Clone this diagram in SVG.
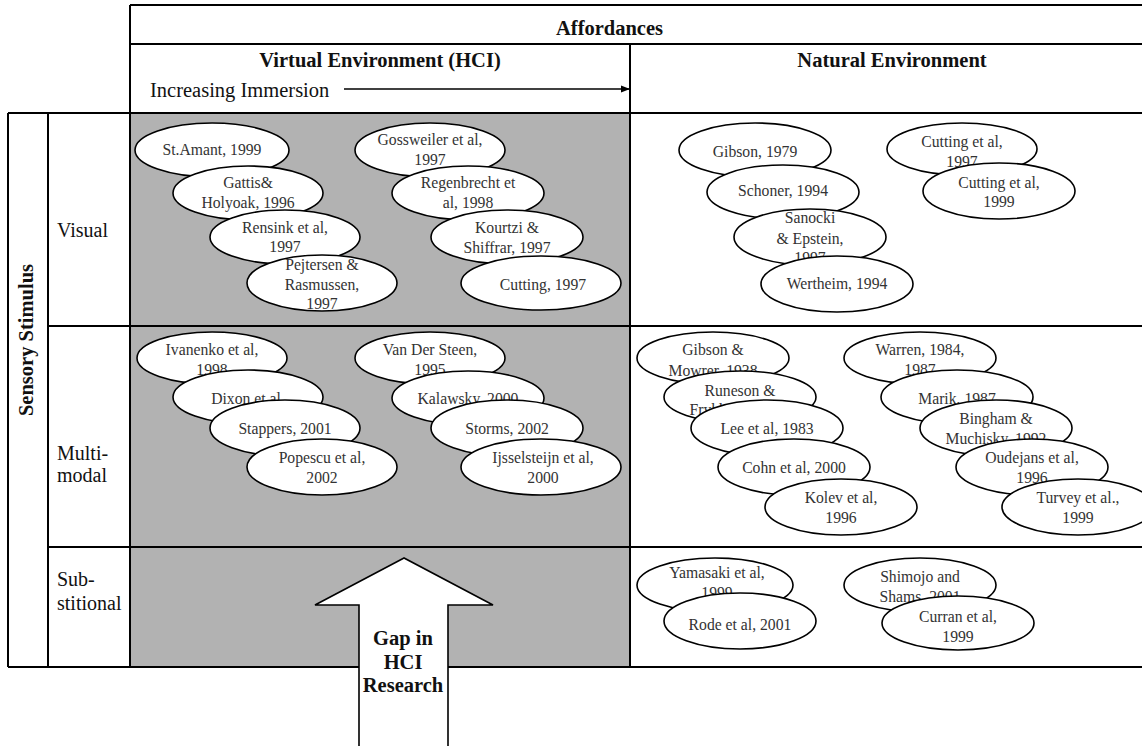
<svg xmlns="http://www.w3.org/2000/svg" width="1142" height="746" viewBox="0 0 1142 746">
<style>
.ln{stroke:#000;stroke-width:2;fill:none}
.e{fill:#fff;stroke:#000;stroke-width:1.6}
.t{font-family:"Liberation Serif",serif;font-size:15.7px;fill:#333;text-anchor:middle}
.lab{font-family:"Liberation Serif",serif;font-size:20px;fill:#111}
.hdr{font-family:"Liberation Serif",serif;font-size:20.5px;font-weight:bold;fill:#111}
.reg{font-family:"Liberation Serif",serif;font-size:20.5px;fill:#111}
</style>
<defs>
<marker id="ah" markerWidth="10" markerHeight="8" refX="9" refY="4" orient="auto" markerUnits="userSpaceOnUse">
<path d="M0,0.5 L9,4 L0,7.5 Z" fill="#000"/>
</marker>
</defs>
<rect width="1142" height="746" fill="#fff"/>
<g id="table">
<rect x="130" y="113" width="500" height="554" fill="#b2b2b2"/>
<path class="ln" d="M130,5 H1143 M130,44 H1143 M130,5 V113 M630,44 V667 M8,113 H1143 M48,326 H1143 M48,547 H1143 M8,667 H1143 M8,113 V667 M48,113 V667 M130,113 V667"/>
<text class="hdr" x="556" y="35">Affordances</text>
<text class="hdr" x="380" y="67" text-anchor="middle">Virtual Environment (HCI)</text>
<text class="hdr" x="892" y="67" text-anchor="middle">Natural Environment</text>
<text class="reg" x="150" y="97">Increasing Immersion</text>
<text class="hdr" transform="translate(33,340) rotate(-90)" text-anchor="middle" font-size="22px">Sensory Stimulus</text>
<text class="lab" x="57" y="237">Visual</text>
<text class="lab" x="57" y="460">Multi-</text>
<text class="lab" x="57" y="482">modal</text>
<text class="lab" x="57" y="586">Sub-</text>
<text class="lab" x="57" y="610">stitional</text>
</g>
<g id="connectors">
<line x1="344" y1="89" x2="630" y2="89" stroke="#000" stroke-width="1.5" marker-end="url(#ah)"/>
</g>
<g id="n1"><ellipse class="e" cx="212" cy="150" rx="77" ry="27"/><text class="t" x="212" y="155">St.Amant, 1999</text></g>
<g id="n2"><ellipse class="e" cx="248" cy="193" rx="75" ry="27"/><text class="t" x="248" y="188">Gattis&amp;</text><text class="t" x="248" y="208">Holyoak, 1996</text></g>
<g id="n3"><ellipse class="e" cx="285" cy="237" rx="75" ry="27"/><text class="t" x="285" y="233">Rensink et al,</text><text class="t" x="285" y="252">1997</text></g>
<g id="n4"><ellipse class="e" cx="322" cy="283" rx="75" ry="28"/><text class="t" x="322" y="270">Pejtersen &amp;</text><text class="t" x="322" y="290">Rasmussen,</text><text class="t" x="322" y="309">1997</text></g>
<g id="n5"><ellipse class="e" cx="430" cy="150" rx="75" ry="27"/><text class="t" x="430" y="145">Gossweiler et al,</text><text class="t" x="430" y="165">1997</text></g>
<g id="n6"><ellipse class="e" cx="468" cy="193" rx="76" ry="27"/><text class="t" x="468" y="188">Regenbrecht et</text><text class="t" x="468" y="208">al, 1998</text></g>
<g id="n7"><ellipse class="e" cx="507" cy="237" rx="76" ry="27"/><text class="t" x="507" y="233">Kourtzi &amp;</text><text class="t" x="507" y="253">Shiffrar, 1997</text></g>
<g id="n8"><ellipse class="e" cx="541" cy="283" rx="80" ry="27"/><text class="t" x="543" y="290">Cutting, 1997</text></g>
<g id="n9"><ellipse class="e" cx="212" cy="358" rx="75" ry="26"/><text class="t" x="212" y="355">Ivanenko et al,</text><text class="t" x="212" y="375">1998</text></g>
<g id="n10"><ellipse class="e" cx="248" cy="397" rx="75" ry="27"/><text class="t" x="248" y="404">Dixon et al,</text></g>
<g id="n11"><ellipse class="e" cx="285" cy="428" rx="75" ry="28"/><text class="t" x="285" y="434">Stappers, 2001</text></g>
<g id="n12"><ellipse class="e" cx="322" cy="467" rx="75" ry="28"/><text class="t" x="322" y="463">Popescu et al,</text><text class="t" x="322" y="483">2002</text></g>
<g id="n13"><ellipse class="e" cx="430" cy="358" rx="75" ry="26"/><text class="t" x="430" y="355">Van Der Steen,</text><text class="t" x="430" y="375">1995</text></g>
<g id="n14"><ellipse class="e" cx="468" cy="398" rx="76" ry="27"/><text class="t" x="468" y="404">Kalawsky, 2000</text></g>
<g id="n15"><ellipse class="e" cx="507" cy="428" rx="76" ry="28"/><text class="t" x="507" y="434">Storms, 2002</text></g>
<g id="n16"><ellipse class="e" cx="541" cy="467" rx="80" ry="28"/><text class="t" x="543" y="463">Ijsselsteijn et al,</text><text class="t" x="543" y="483">2000</text></g>
<g id="n17"><ellipse class="e" cx="755" cy="150" rx="76" ry="27"/><text class="t" x="755" y="157">Gibson, 1979</text></g>
<g id="n18"><ellipse class="e" cx="783" cy="192" rx="76" ry="27"/><text class="t" x="783" y="196">Schoner, 1994</text></g>
<g id="n19"><ellipse class="e" cx="810" cy="237" rx="76" ry="28"/><text class="t" x="810" y="223">Sanocki</text><text class="t" x="810" y="244">&amp; Epstein,</text><text class="t" x="810" y="263">1997</text></g>
<g id="n20"><ellipse class="e" cx="837" cy="284" rx="76" ry="28"/><text class="t" x="837" y="289">Wertheim, 1994</text></g>
<g id="n21"><ellipse class="e" cx="962" cy="149" rx="75" ry="26"/><text class="t" x="962" y="147">Cutting et al,</text><text class="t" x="962" y="167">1997</text></g>
<g id="n22"><ellipse class="e" cx="999" cy="191" rx="76" ry="28"/><text class="t" x="999" y="188">Cutting et al,</text><text class="t" x="999" y="207">1999</text></g>
<g id="n23"><ellipse class="e" cx="713" cy="358" rx="76" ry="26"/><text class="t" x="713" y="355">Gibson &amp;</text><text class="t" x="713" y="376">Mowrer, 1938</text></g>
<g id="n24"><ellipse class="e" cx="740" cy="397" rx="76" ry="26"/><text class="t" x="740" y="396">Runeson &amp;</text><text class="t" x="740" y="415">Frykholm, 1983</text></g>
<g id="n25"><ellipse class="e" cx="767" cy="428" rx="76" ry="28"/><text class="t" x="767" y="434">Lee et al, 1983</text></g>
<g id="n26"><ellipse class="e" cx="794" cy="467" rx="76" ry="28"/><text class="t" x="794" y="473">Cohn et al, 2000</text></g>
<g id="n27"><ellipse class="e" cx="841" cy="507" rx="76" ry="28"/><text class="t" x="841" y="503">Kolev et al,</text><text class="t" x="841" y="523">1996</text></g>
<g id="n28"><ellipse class="e" cx="920" cy="358" rx="76" ry="26"/><text class="t" x="920" y="355">Warren, 1984,</text><text class="t" x="920" y="375">1987</text></g>
<g id="n29"><ellipse class="e" cx="957" cy="397" rx="76" ry="27"/><text class="t" x="957" y="404">Marik, 1987</text></g>
<g id="n30"><ellipse class="e" cx="996" cy="428" rx="76" ry="28"/><text class="t" x="996" y="424">Bingham &amp;</text><text class="t" x="996" y="444">Muchisky, 1992</text></g>
<g id="n31"><ellipse class="e" cx="1032" cy="467" rx="76" ry="28"/><text class="t" x="1032" y="463">Oudejans et al,</text><text class="t" x="1032" y="483">1996</text></g>
<g id="n32"><ellipse class="e" cx="1078" cy="507" rx="76" ry="28"/><text class="t" x="1078" y="503">Turvey et al.,</text><text class="t" x="1078" y="523">1999</text></g>
<g id="n33"><ellipse class="e" cx="715" cy="585" rx="78" ry="27"/><text class="t" x="717" y="578">Yamasaki et al,</text><text class="t" x="717" y="598">1999</text></g>
<g id="n34"><ellipse class="e" cx="740" cy="621" rx="76" ry="28"/><text class="t" x="740" y="630">Rode et al, 2001</text></g>
<g id="n35"><ellipse class="e" cx="920" cy="585" rx="76" ry="27"/><text class="t" x="920" y="582">Shimojo and</text><text class="t" x="920" y="602">Shams, 2001</text></g>
<g id="n36"><ellipse class="e" cx="958" cy="623" rx="76" ry="27"/><text class="t" x="958" y="622">Curran et al,</text><text class="t" x="958" y="642">1999</text></g>
<g id="gap">
<path d="M404,558 L315,605 L359,605 L359,750 L448,750 L448,605 L493,605 Z" fill="#fff" stroke="#000" stroke-width="1.6"/>
<text class="hdr" x="403" y="645" text-anchor="middle" font-size="19.5px">Gap in</text>
<text class="hdr" x="403" y="669" text-anchor="middle" font-size="19.5px">HCI</text>
<text class="hdr" x="403" y="692" text-anchor="middle" font-size="19.5px">Research</text>
</g>
</svg>
